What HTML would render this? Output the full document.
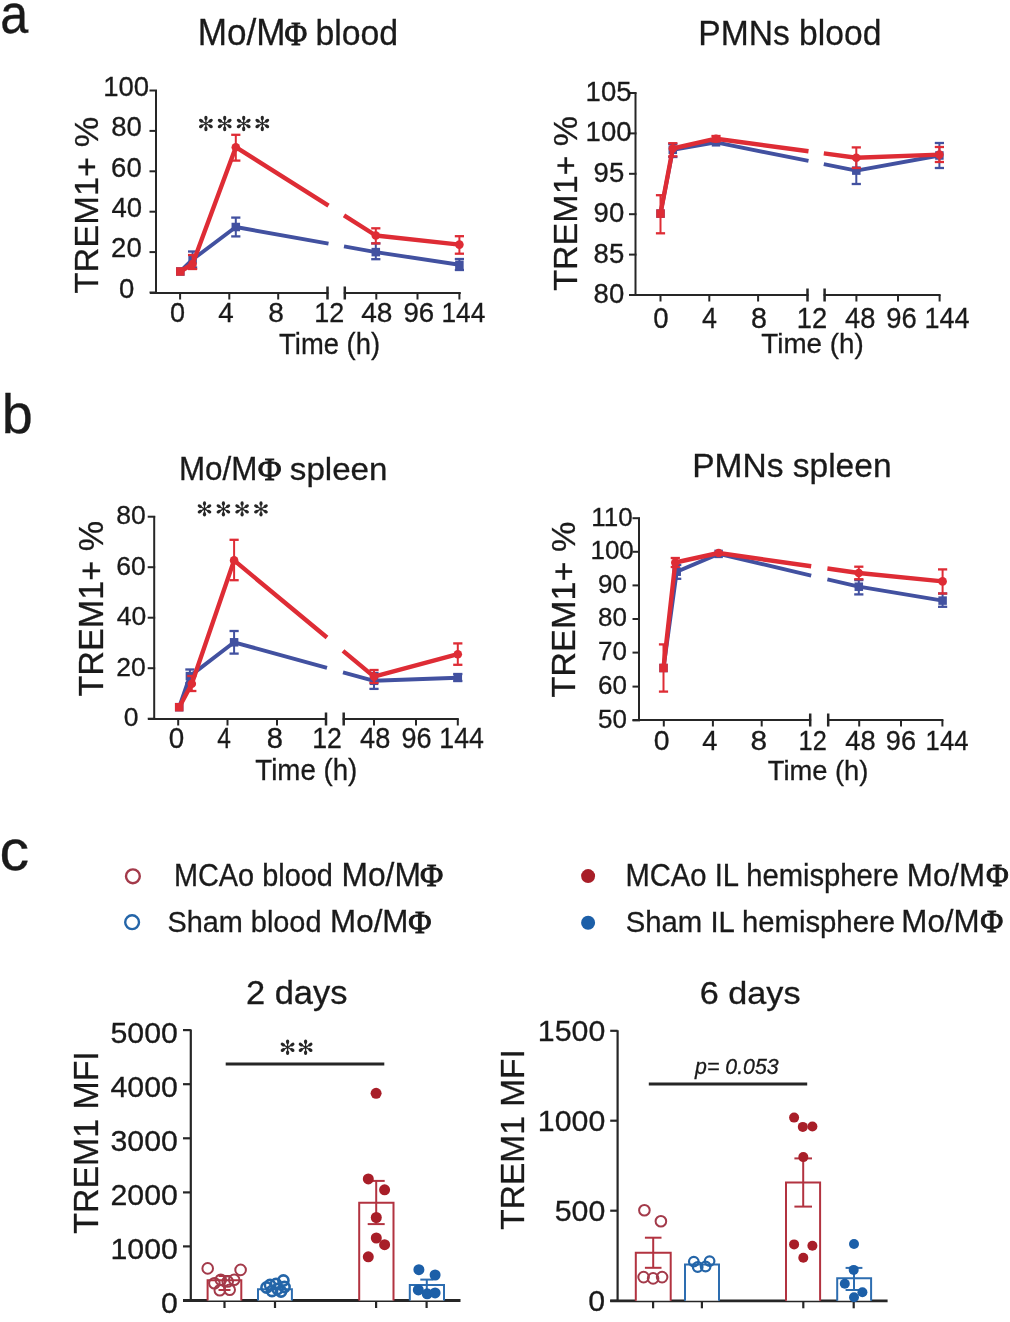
<!DOCTYPE html><html><head><meta charset="utf-8"><style>html,body{margin:0;padding:0;background:#fff;}svg{display:block;filter:blur(0.6px);} text{font-family:"Liberation Sans",sans-serif;stroke:#1a1a1a;stroke-width:0.3px;}</style></head><body><svg width="1010" height="1322" viewBox="0 0 1010 1322"><rect width="1010" height="1322" fill="#fff"/>
<text transform="translate(0.36,33.00) scale(0.9088,1)" font-size="55.44" fill="#1a1a1a"><tspan font-family="Liberation Sans">a</tspan></text>
<text transform="translate(1.69,432.60) scale(1.0020,1)" font-size="55.72" fill="#1a1a1a"><tspan font-family="Liberation Sans">b</tspan></text>
<text transform="translate(-0.57,869.80) scale(1.0263,1)" font-size="57.67" fill="#1a1a1a"><tspan font-family="Liberation Sans">c</tspan></text>
<text transform="translate(197.68,44.50) scale(0.9738,1)" font-size="36.07" fill="#1a1a1a"><tspan font-family="Liberation Sans">Mo/M</tspan></text>
<text transform="translate(284.47,44.80) scale(0.9289,1)" font-size="33.44" fill="#1a1a1a" style="stroke-width:0.9px"><tspan font-family="Liberation Serif">Φ</tspan></text>
<text transform="translate(315.40,44.50) scale(0.9763,1)" font-size="34.62" fill="#1a1a1a"><tspan font-family="Liberation Sans">blood</tspan></text>
<text transform="translate(698.28,44.70) scale(0.9395,1)" font-size="35.78" fill="#1a1a1a"><tspan font-family="Liberation Sans">PMNs blood</tspan></text>
<text transform="translate(178.95,480.10) scale(0.9632,1)" font-size="32.58" fill="#1a1a1a"><tspan font-family="Liberation Sans">Mo/M</tspan></text>
<text transform="translate(257.79,479.90) scale(1.0140,1)" font-size="32.06" fill="#1a1a1a" style="stroke-width:0.9px"><tspan font-family="Liberation Serif">Φ</tspan></text>
<text transform="translate(289.85,480.10) scale(1.0485,1)" font-size="31.59" fill="#1a1a1a"><tspan font-family="Liberation Sans">spleen</tspan></text>
<text transform="translate(692.23,477.30) scale(1.0065,1)" font-size="33.31" fill="#1a1a1a"><tspan font-family="Liberation Sans">PMNs spleen</tspan></text>
<line x1="156.00" y1="90.00" x2="156.00" y2="294.00" stroke="#262626" stroke-width="2.00" stroke-linecap="butt"/>
<line x1="149.50" y1="90.50" x2="157.00" y2="90.50" stroke="#262626" stroke-width="2.00" stroke-linecap="butt"/>
<line x1="149.50" y1="130.90" x2="157.00" y2="130.90" stroke="#262626" stroke-width="2.00" stroke-linecap="butt"/>
<line x1="149.50" y1="171.30" x2="157.00" y2="171.30" stroke="#262626" stroke-width="2.00" stroke-linecap="butt"/>
<line x1="149.50" y1="211.70" x2="157.00" y2="211.70" stroke="#262626" stroke-width="2.00" stroke-linecap="butt"/>
<line x1="149.50" y1="252.10" x2="157.00" y2="252.10" stroke="#262626" stroke-width="2.00" stroke-linecap="butt"/>
<line x1="149.50" y1="292.50" x2="157.00" y2="292.50" stroke="#262626" stroke-width="2.00" stroke-linecap="butt"/>
<line x1="150.00" y1="293.00" x2="328.50" y2="293.00" stroke="#262626" stroke-width="2.00" stroke-linecap="butt"/>
<line x1="343.80" y1="293.00" x2="460.80" y2="293.00" stroke="#262626" stroke-width="2.00" stroke-linecap="butt"/>
<line x1="180.10" y1="293.00" x2="180.10" y2="299.50" stroke="#262626" stroke-width="2.00" stroke-linecap="butt"/>
<line x1="229.30" y1="293.00" x2="229.30" y2="299.50" stroke="#262626" stroke-width="2.00" stroke-linecap="butt"/>
<line x1="278.20" y1="293.00" x2="278.20" y2="299.50" stroke="#262626" stroke-width="2.00" stroke-linecap="butt"/>
<line x1="376.30" y1="293.00" x2="376.30" y2="299.50" stroke="#262626" stroke-width="2.00" stroke-linecap="butt"/>
<line x1="417.50" y1="293.00" x2="417.50" y2="299.50" stroke="#262626" stroke-width="2.00" stroke-linecap="butt"/>
<line x1="459.40" y1="293.00" x2="459.40" y2="299.50" stroke="#262626" stroke-width="2.00" stroke-linecap="butt"/>
<line x1="327.50" y1="286.50" x2="327.50" y2="299.50" stroke="#262626" stroke-width="2.50" stroke-linecap="butt"/>
<line x1="344.80" y1="286.50" x2="344.80" y2="299.50" stroke="#262626" stroke-width="2.50" stroke-linecap="butt"/>
<polyline points="180.30,271.50 192.60,259.50 235.80,227.00 328.50,243.62" fill="none" stroke="#4251a0" stroke-width="3.90" stroke-linejoin="round" stroke-linecap="butt"/>
<polyline points="344.00,246.40 375.80,252.10 459.40,264.80" fill="none" stroke="#4251a0" stroke-width="3.90" stroke-linejoin="round" stroke-linecap="butt"/>
<line x1="192.60" y1="251.50" x2="192.60" y2="267.50" stroke="#4251a0" stroke-width="2.00" stroke-linecap="butt"/>
<line x1="188.00" y1="251.50" x2="197.20" y2="251.50" stroke="#4251a0" stroke-width="2.30" stroke-linecap="butt"/>
<line x1="188.00" y1="267.50" x2="197.20" y2="267.50" stroke="#4251a0" stroke-width="2.30" stroke-linecap="butt"/>
<line x1="235.80" y1="217.60" x2="235.80" y2="236.40" stroke="#4251a0" stroke-width="2.00" stroke-linecap="butt"/>
<line x1="231.20" y1="217.60" x2="240.40" y2="217.60" stroke="#4251a0" stroke-width="2.30" stroke-linecap="butt"/>
<line x1="231.20" y1="236.40" x2="240.40" y2="236.40" stroke="#4251a0" stroke-width="2.30" stroke-linecap="butt"/>
<line x1="375.80" y1="243.40" x2="375.80" y2="259.20" stroke="#4251a0" stroke-width="2.00" stroke-linecap="butt"/>
<line x1="371.20" y1="243.40" x2="380.40" y2="243.40" stroke="#4251a0" stroke-width="2.30" stroke-linecap="butt"/>
<line x1="371.20" y1="259.20" x2="380.40" y2="259.20" stroke="#4251a0" stroke-width="2.30" stroke-linecap="butt"/>
<line x1="459.40" y1="259.00" x2="459.40" y2="270.00" stroke="#4251a0" stroke-width="2.00" stroke-linecap="butt"/>
<line x1="454.80" y1="259.00" x2="464.00" y2="259.00" stroke="#4251a0" stroke-width="2.30" stroke-linecap="butt"/>
<line x1="454.80" y1="270.00" x2="464.00" y2="270.00" stroke="#4251a0" stroke-width="2.30" stroke-linecap="butt"/>
<rect x="176.05" y="267.25" width="8.5" height="8.5" fill="#4251a0"/>
<rect x="188.35" y="255.25" width="8.5" height="8.5" fill="#4251a0"/>
<rect x="231.55" y="222.75" width="8.5" height="8.5" fill="#4251a0"/>
<rect x="371.55" y="247.85" width="8.5" height="8.5" fill="#4251a0"/>
<rect x="455.15" y="260.55" width="8.5" height="8.5" fill="#4251a0"/>
<polyline points="180.30,271.50 192.60,264.00 235.80,147.20 328.50,205.67" fill="none" stroke="#de2c35" stroke-width="4.40" stroke-linejoin="round" stroke-linecap="butt"/>
<polyline points="344.00,215.44 375.80,235.50 459.40,244.60" fill="none" stroke="#de2c35" stroke-width="4.40" stroke-linejoin="round" stroke-linecap="butt"/>
<line x1="192.60" y1="255.00" x2="192.60" y2="269.00" stroke="#de2c35" stroke-width="2.00" stroke-linecap="butt"/>
<line x1="188.00" y1="255.00" x2="197.20" y2="255.00" stroke="#de2c35" stroke-width="2.30" stroke-linecap="butt"/>
<line x1="188.00" y1="269.00" x2="197.20" y2="269.00" stroke="#de2c35" stroke-width="2.30" stroke-linecap="butt"/>
<line x1="235.80" y1="134.80" x2="235.80" y2="160.60" stroke="#de2c35" stroke-width="2.00" stroke-linecap="butt"/>
<line x1="231.20" y1="134.80" x2="240.40" y2="134.80" stroke="#de2c35" stroke-width="2.30" stroke-linecap="butt"/>
<line x1="231.20" y1="160.60" x2="240.40" y2="160.60" stroke="#de2c35" stroke-width="2.30" stroke-linecap="butt"/>
<line x1="375.80" y1="228.30" x2="375.80" y2="243.40" stroke="#de2c35" stroke-width="2.00" stroke-linecap="butt"/>
<line x1="371.20" y1="228.30" x2="380.40" y2="228.30" stroke="#de2c35" stroke-width="2.30" stroke-linecap="butt"/>
<line x1="371.20" y1="243.40" x2="380.40" y2="243.40" stroke="#de2c35" stroke-width="2.30" stroke-linecap="butt"/>
<line x1="459.40" y1="236.20" x2="459.40" y2="253.70" stroke="#de2c35" stroke-width="2.00" stroke-linecap="butt"/>
<line x1="454.80" y1="236.20" x2="464.00" y2="236.20" stroke="#de2c35" stroke-width="2.30" stroke-linecap="butt"/>
<line x1="454.80" y1="253.70" x2="464.00" y2="253.70" stroke="#de2c35" stroke-width="2.30" stroke-linecap="butt"/>
<rect x="176.05" y="267.25" width="8.5" height="8.5" fill="#de2c35"/>
<circle cx="192.60" cy="264.00" r="4.3" fill="#de2c35"/>
<circle cx="235.80" cy="147.20" r="4.3" fill="#de2c35"/>
<circle cx="375.80" cy="235.50" r="4.3" fill="#de2c35"/>
<circle cx="459.40" cy="244.60" r="4.3" fill="#de2c35"/>
<text transform="translate(103.22,95.70) scale(1.0000,1)" font-size="27.50" fill="#1a1a1a">100</text>
<text transform="translate(111.22,136.10) scale(1.0000,1)" font-size="27.50" fill="#1a1a1a">80</text>
<text transform="translate(111.10,176.50) scale(1.0000,1)" font-size="27.50" fill="#1a1a1a">60</text>
<text transform="translate(111.47,216.90) scale(1.0000,1)" font-size="27.50" fill="#1a1a1a">40</text>
<text transform="translate(111.10,257.30) scale(1.0000,1)" font-size="27.50" fill="#1a1a1a">20</text>
<text transform="translate(118.97,297.70) scale(1.0000,1)" font-size="27.50" fill="#1a1a1a">0</text>
<text transform="translate(169.94,322.40) scale(0.9630,1)" font-size="28.10" fill="#1a1a1a"><tspan font-family="Liberation Sans">0</tspan></text>
<text transform="translate(218.17,322.40) scale(0.9754,1)" font-size="28.51" fill="#1a1a1a"><tspan font-family="Liberation Sans">4</tspan></text>
<text transform="translate(268.15,322.40) scale(1.0000,1)" font-size="28.10" fill="#1a1a1a"><tspan font-family="Liberation Sans">8</tspan></text>
<text transform="translate(314.24,322.40) scale(0.9600,1)" font-size="28.10" fill="#1a1a1a"><tspan font-family="Liberation Sans">12</tspan></text>
<text transform="translate(361.15,322.40) scale(1.0000,1)" font-size="28.10" fill="#1a1a1a"><tspan font-family="Liberation Sans">48</tspan></text>
<text transform="translate(403.47,322.40) scale(0.9860,1)" font-size="28.10" fill="#1a1a1a"><tspan font-family="Liberation Sans">96</tspan></text>
<text transform="translate(441.43,322.40) scale(0.9213,1)" font-size="28.51" fill="#1a1a1a"><tspan font-family="Liberation Sans">144</tspan></text>
<text transform="translate(279.10,354.20) scale(0.9368,1)" font-size="29.24" fill="#1a1a1a"><tspan font-family="Liberation Sans">Time (h)</tspan></text>
<text transform="translate(97.60,293.48) rotate(-90) scale(1.0390,1)" font-size="33.09" fill="#1a1a1a"><tspan font-family="Liberation Sans">TREM1+ %</tspan></text>
<line x1="205.90" y1="118.04" x2="205.90" y2="128.96" stroke="#262626" stroke-width="1.30"/>
<ellipse cx="205.90" cy="128.96" rx="2.34" ry="1.64" fill="#262626" transform="rotate(90.0 205.90 128.96)"/>
<ellipse cx="205.90" cy="118.04" rx="2.34" ry="1.64" fill="#262626" transform="rotate(90.0 205.90 118.04)"/>
<line x1="201.17" y1="120.77" x2="210.63" y2="126.23" stroke="#262626" stroke-width="1.30"/>
<ellipse cx="210.63" cy="126.23" rx="2.34" ry="1.64" fill="#262626" transform="rotate(30.0 210.63 126.23)"/>
<ellipse cx="201.17" cy="120.77" rx="2.34" ry="1.64" fill="#262626" transform="rotate(30.0 201.17 120.77)"/>
<line x1="210.63" y1="120.77" x2="201.17" y2="126.23" stroke="#262626" stroke-width="1.30"/>
<ellipse cx="201.17" cy="126.23" rx="2.34" ry="1.64" fill="#262626" transform="rotate(150.0 201.17 126.23)"/>
<ellipse cx="210.63" cy="120.77" rx="2.34" ry="1.64" fill="#262626" transform="rotate(150.0 210.63 120.77)"/>
<line x1="224.70" y1="118.04" x2="224.70" y2="128.96" stroke="#262626" stroke-width="1.30"/>
<ellipse cx="224.70" cy="128.96" rx="2.34" ry="1.64" fill="#262626" transform="rotate(90.0 224.70 128.96)"/>
<ellipse cx="224.70" cy="118.04" rx="2.34" ry="1.64" fill="#262626" transform="rotate(90.0 224.70 118.04)"/>
<line x1="219.97" y1="120.77" x2="229.43" y2="126.23" stroke="#262626" stroke-width="1.30"/>
<ellipse cx="229.43" cy="126.23" rx="2.34" ry="1.64" fill="#262626" transform="rotate(30.0 229.43 126.23)"/>
<ellipse cx="219.97" cy="120.77" rx="2.34" ry="1.64" fill="#262626" transform="rotate(30.0 219.97 120.77)"/>
<line x1="229.43" y1="120.77" x2="219.97" y2="126.23" stroke="#262626" stroke-width="1.30"/>
<ellipse cx="219.97" cy="126.23" rx="2.34" ry="1.64" fill="#262626" transform="rotate(150.0 219.97 126.23)"/>
<ellipse cx="229.43" cy="120.77" rx="2.34" ry="1.64" fill="#262626" transform="rotate(150.0 229.43 120.77)"/>
<line x1="243.70" y1="118.04" x2="243.70" y2="128.96" stroke="#262626" stroke-width="1.30"/>
<ellipse cx="243.70" cy="128.96" rx="2.34" ry="1.64" fill="#262626" transform="rotate(90.0 243.70 128.96)"/>
<ellipse cx="243.70" cy="118.04" rx="2.34" ry="1.64" fill="#262626" transform="rotate(90.0 243.70 118.04)"/>
<line x1="238.97" y1="120.77" x2="248.43" y2="126.23" stroke="#262626" stroke-width="1.30"/>
<ellipse cx="248.43" cy="126.23" rx="2.34" ry="1.64" fill="#262626" transform="rotate(30.0 248.43 126.23)"/>
<ellipse cx="238.97" cy="120.77" rx="2.34" ry="1.64" fill="#262626" transform="rotate(30.0 238.97 120.77)"/>
<line x1="248.43" y1="120.77" x2="238.97" y2="126.23" stroke="#262626" stroke-width="1.30"/>
<ellipse cx="238.97" cy="126.23" rx="2.34" ry="1.64" fill="#262626" transform="rotate(150.0 238.97 126.23)"/>
<ellipse cx="248.43" cy="120.77" rx="2.34" ry="1.64" fill="#262626" transform="rotate(150.0 248.43 120.77)"/>
<line x1="262.30" y1="118.04" x2="262.30" y2="128.96" stroke="#262626" stroke-width="1.30"/>
<ellipse cx="262.30" cy="128.96" rx="2.34" ry="1.64" fill="#262626" transform="rotate(90.0 262.30 128.96)"/>
<ellipse cx="262.30" cy="118.04" rx="2.34" ry="1.64" fill="#262626" transform="rotate(90.0 262.30 118.04)"/>
<line x1="257.57" y1="120.77" x2="267.03" y2="126.23" stroke="#262626" stroke-width="1.30"/>
<ellipse cx="267.03" cy="126.23" rx="2.34" ry="1.64" fill="#262626" transform="rotate(30.0 267.03 126.23)"/>
<ellipse cx="257.57" cy="120.77" rx="2.34" ry="1.64" fill="#262626" transform="rotate(30.0 257.57 120.77)"/>
<line x1="267.03" y1="120.77" x2="257.57" y2="126.23" stroke="#262626" stroke-width="1.30"/>
<ellipse cx="257.57" cy="126.23" rx="2.34" ry="1.64" fill="#262626" transform="rotate(150.0 257.57 126.23)"/>
<ellipse cx="267.03" cy="120.77" rx="2.34" ry="1.64" fill="#262626" transform="rotate(150.0 267.03 120.77)"/>
<line x1="635.50" y1="92.50" x2="635.50" y2="296.00" stroke="#262626" stroke-width="2.00" stroke-linecap="butt"/>
<line x1="629.00" y1="93.00" x2="636.50" y2="93.00" stroke="#262626" stroke-width="2.00" stroke-linecap="butt"/>
<line x1="629.00" y1="133.40" x2="636.50" y2="133.40" stroke="#262626" stroke-width="2.00" stroke-linecap="butt"/>
<line x1="629.00" y1="173.80" x2="636.50" y2="173.80" stroke="#262626" stroke-width="2.00" stroke-linecap="butt"/>
<line x1="629.00" y1="214.20" x2="636.50" y2="214.20" stroke="#262626" stroke-width="2.00" stroke-linecap="butt"/>
<line x1="629.00" y1="254.60" x2="636.50" y2="254.60" stroke="#262626" stroke-width="2.00" stroke-linecap="butt"/>
<line x1="629.00" y1="295.00" x2="636.50" y2="295.00" stroke="#262626" stroke-width="2.00" stroke-linecap="butt"/>
<line x1="629.50" y1="295.00" x2="808.50" y2="295.00" stroke="#262626" stroke-width="2.00" stroke-linecap="butt"/>
<line x1="823.60" y1="295.00" x2="940.60" y2="295.00" stroke="#262626" stroke-width="2.00" stroke-linecap="butt"/>
<line x1="660.50" y1="295.00" x2="660.50" y2="301.50" stroke="#262626" stroke-width="2.00" stroke-linecap="butt"/>
<line x1="709.30" y1="295.00" x2="709.30" y2="301.50" stroke="#262626" stroke-width="2.00" stroke-linecap="butt"/>
<line x1="758.10" y1="295.00" x2="758.10" y2="301.50" stroke="#262626" stroke-width="2.00" stroke-linecap="butt"/>
<line x1="856.40" y1="295.00" x2="856.40" y2="301.50" stroke="#262626" stroke-width="2.00" stroke-linecap="butt"/>
<line x1="898.00" y1="295.00" x2="898.00" y2="301.50" stroke="#262626" stroke-width="2.00" stroke-linecap="butt"/>
<line x1="939.60" y1="295.00" x2="939.60" y2="301.50" stroke="#262626" stroke-width="2.00" stroke-linecap="butt"/>
<line x1="807.50" y1="288.50" x2="807.50" y2="301.50" stroke="#262626" stroke-width="2.50" stroke-linecap="butt"/>
<line x1="824.60" y1="288.50" x2="824.60" y2="301.50" stroke="#262626" stroke-width="2.50" stroke-linecap="butt"/>
<polyline points="660.50,213.60 672.80,149.80 716.00,142.30 808.50,160.96" fill="none" stroke="#4251a0" stroke-width="3.90" stroke-linejoin="round" stroke-linecap="butt"/>
<polyline points="823.80,164.04 856.30,170.60 939.40,155.50" fill="none" stroke="#4251a0" stroke-width="3.90" stroke-linejoin="round" stroke-linecap="butt"/>
<line x1="672.80" y1="144.00" x2="672.80" y2="157.00" stroke="#4251a0" stroke-width="2.00" stroke-linecap="butt"/>
<line x1="668.20" y1="144.00" x2="677.40" y2="144.00" stroke="#4251a0" stroke-width="2.30" stroke-linecap="butt"/>
<line x1="668.20" y1="157.00" x2="677.40" y2="157.00" stroke="#4251a0" stroke-width="2.30" stroke-linecap="butt"/>
<line x1="856.30" y1="157.00" x2="856.30" y2="184.00" stroke="#4251a0" stroke-width="2.00" stroke-linecap="butt"/>
<line x1="851.70" y1="157.00" x2="860.90" y2="157.00" stroke="#4251a0" stroke-width="2.30" stroke-linecap="butt"/>
<line x1="851.70" y1="184.00" x2="860.90" y2="184.00" stroke="#4251a0" stroke-width="2.30" stroke-linecap="butt"/>
<line x1="939.40" y1="143.00" x2="939.40" y2="168.00" stroke="#4251a0" stroke-width="2.00" stroke-linecap="butt"/>
<line x1="934.80" y1="143.00" x2="944.00" y2="143.00" stroke="#4251a0" stroke-width="2.30" stroke-linecap="butt"/>
<line x1="934.80" y1="168.00" x2="944.00" y2="168.00" stroke="#4251a0" stroke-width="2.30" stroke-linecap="butt"/>
<rect x="656.25" y="209.35" width="8.5" height="8.5" fill="#4251a0"/>
<rect x="668.55" y="145.55" width="8.5" height="8.5" fill="#4251a0"/>
<rect x="711.75" y="138.05" width="8.5" height="8.5" fill="#4251a0"/>
<rect x="852.05" y="166.35" width="8.5" height="8.5" fill="#4251a0"/>
<rect x="935.15" y="151.25" width="8.5" height="8.5" fill="#4251a0"/>
<polyline points="660.50,213.60 672.80,148.50 716.00,138.70 808.50,151.29" fill="none" stroke="#de2c35" stroke-width="4.40" stroke-linejoin="round" stroke-linecap="butt"/>
<polyline points="823.80,153.38 856.30,157.80 939.40,154.60" fill="none" stroke="#de2c35" stroke-width="4.40" stroke-linejoin="round" stroke-linecap="butt"/>
<line x1="660.50" y1="195.20" x2="660.50" y2="233.30" stroke="#de2c35" stroke-width="2.00" stroke-linecap="butt"/>
<line x1="655.90" y1="195.20" x2="665.10" y2="195.20" stroke="#de2c35" stroke-width="2.30" stroke-linecap="butt"/>
<line x1="655.90" y1="233.30" x2="665.10" y2="233.30" stroke="#de2c35" stroke-width="2.30" stroke-linecap="butt"/>
<line x1="672.80" y1="143.20" x2="672.80" y2="156.30" stroke="#de2c35" stroke-width="2.00" stroke-linecap="butt"/>
<line x1="668.20" y1="143.20" x2="677.40" y2="143.20" stroke="#de2c35" stroke-width="2.30" stroke-linecap="butt"/>
<line x1="668.20" y1="156.30" x2="677.40" y2="156.30" stroke="#de2c35" stroke-width="2.30" stroke-linecap="butt"/>
<line x1="716.00" y1="136.00" x2="716.00" y2="141.50" stroke="#de2c35" stroke-width="2.00" stroke-linecap="butt"/>
<line x1="711.40" y1="136.00" x2="720.60" y2="136.00" stroke="#de2c35" stroke-width="2.30" stroke-linecap="butt"/>
<line x1="711.40" y1="141.50" x2="720.60" y2="141.50" stroke="#de2c35" stroke-width="2.30" stroke-linecap="butt"/>
<line x1="856.30" y1="147.40" x2="856.30" y2="168.00" stroke="#de2c35" stroke-width="2.00" stroke-linecap="butt"/>
<line x1="851.70" y1="147.40" x2="860.90" y2="147.40" stroke="#de2c35" stroke-width="2.30" stroke-linecap="butt"/>
<line x1="851.70" y1="168.00" x2="860.90" y2="168.00" stroke="#de2c35" stroke-width="2.30" stroke-linecap="butt"/>
<line x1="939.40" y1="147.00" x2="939.40" y2="162.00" stroke="#de2c35" stroke-width="2.00" stroke-linecap="butt"/>
<line x1="934.80" y1="147.00" x2="944.00" y2="147.00" stroke="#de2c35" stroke-width="2.30" stroke-linecap="butt"/>
<line x1="934.80" y1="162.00" x2="944.00" y2="162.00" stroke="#de2c35" stroke-width="2.30" stroke-linecap="butt"/>
<rect x="656.25" y="209.35" width="8.5" height="8.5" fill="#de2c35"/>
<circle cx="672.80" cy="148.50" r="4.3" fill="#de2c35"/>
<circle cx="716.00" cy="138.70" r="4.3" fill="#de2c35"/>
<circle cx="856.30" cy="157.80" r="4.3" fill="#de2c35"/>
<circle cx="939.40" cy="154.60" r="4.3" fill="#de2c35"/>
<text transform="translate(585.62,101.00) scale(1.0000,1)" font-size="27.50" fill="#1a1a1a">105</text>
<text transform="translate(585.62,141.40) scale(1.0000,1)" font-size="27.50" fill="#1a1a1a">100</text>
<text transform="translate(593.62,181.80) scale(1.0000,1)" font-size="27.50" fill="#1a1a1a">95</text>
<text transform="translate(593.62,222.20) scale(1.0000,1)" font-size="27.50" fill="#1a1a1a">90</text>
<text transform="translate(593.62,262.60) scale(1.0000,1)" font-size="27.50" fill="#1a1a1a">85</text>
<text transform="translate(593.62,303.00) scale(1.0000,1)" font-size="27.50" fill="#1a1a1a">80</text>
<text transform="translate(653.30,327.80) scale(0.9630,1)" font-size="28.67" fill="#1a1a1a"><tspan font-family="Liberation Sans">0</tspan></text>
<text transform="translate(701.91,327.80) scale(0.9241,1)" font-size="29.09" fill="#1a1a1a"><tspan font-family="Liberation Sans">4</tspan></text>
<text transform="translate(750.95,327.80) scale(1.0000,1)" font-size="28.67" fill="#1a1a1a"><tspan font-family="Liberation Sans">8</tspan></text>
<text transform="translate(796.76,327.80) scale(0.9522,1)" font-size="28.67" fill="#1a1a1a"><tspan font-family="Liberation Sans">12</tspan></text>
<text transform="translate(845.09,327.80) scale(0.9533,1)" font-size="28.67" fill="#1a1a1a"><tspan font-family="Liberation Sans">48</tspan></text>
<text transform="translate(886.21,327.80) scale(0.9559,1)" font-size="28.67" fill="#1a1a1a"><tspan font-family="Liberation Sans">96</tspan></text>
<text transform="translate(924.61,327.80) scale(0.9282,1)" font-size="29.09" fill="#1a1a1a"><tspan font-family="Liberation Sans">144</tspan></text>
<text transform="translate(761.35,352.80) scale(0.9950,1)" font-size="27.93" fill="#1a1a1a"><tspan font-family="Liberation Sans">Time (h)</tspan></text>
<text transform="translate(577.40,290.77) rotate(-90) scale(1.0243,1)" font-size="33.24" fill="#1a1a1a"><tspan font-family="Liberation Sans">TREM1+ %</tspan></text>
<line x1="154.20" y1="516.00" x2="154.20" y2="720.00" stroke="#262626" stroke-width="2.00" stroke-linecap="butt"/>
<line x1="147.70" y1="516.70" x2="155.20" y2="516.70" stroke="#262626" stroke-width="2.00" stroke-linecap="butt"/>
<line x1="147.70" y1="567.20" x2="155.20" y2="567.20" stroke="#262626" stroke-width="2.00" stroke-linecap="butt"/>
<line x1="147.70" y1="617.70" x2="155.20" y2="617.70" stroke="#262626" stroke-width="2.00" stroke-linecap="butt"/>
<line x1="147.70" y1="668.20" x2="155.20" y2="668.20" stroke="#262626" stroke-width="2.00" stroke-linecap="butt"/>
<line x1="147.70" y1="718.70" x2="155.20" y2="718.70" stroke="#262626" stroke-width="2.00" stroke-linecap="butt"/>
<line x1="148.00" y1="719.00" x2="327.00" y2="719.00" stroke="#262626" stroke-width="2.00" stroke-linecap="butt"/>
<line x1="342.70" y1="719.00" x2="458.80" y2="719.00" stroke="#262626" stroke-width="2.00" stroke-linecap="butt"/>
<line x1="178.20" y1="719.00" x2="178.20" y2="725.50" stroke="#262626" stroke-width="2.00" stroke-linecap="butt"/>
<line x1="227.50" y1="719.00" x2="227.50" y2="725.50" stroke="#262626" stroke-width="2.00" stroke-linecap="butt"/>
<line x1="277.00" y1="719.00" x2="277.00" y2="725.50" stroke="#262626" stroke-width="2.00" stroke-linecap="butt"/>
<line x1="374.00" y1="719.00" x2="374.00" y2="725.50" stroke="#262626" stroke-width="2.00" stroke-linecap="butt"/>
<line x1="416.00" y1="719.00" x2="416.00" y2="725.50" stroke="#262626" stroke-width="2.00" stroke-linecap="butt"/>
<line x1="457.80" y1="719.00" x2="457.80" y2="725.50" stroke="#262626" stroke-width="2.00" stroke-linecap="butt"/>
<line x1="326.00" y1="712.50" x2="326.00" y2="725.50" stroke="#262626" stroke-width="2.50" stroke-linecap="butt"/>
<line x1="343.70" y1="712.50" x2="343.70" y2="725.50" stroke="#262626" stroke-width="2.50" stroke-linecap="butt"/>
<polyline points="179.20,707.20 189.90,676.10 234.10,642.30 327.00,667.87" fill="none" stroke="#4251a0" stroke-width="3.90" stroke-linejoin="round" stroke-linecap="butt"/>
<polyline points="343.00,672.27 374.00,680.80 457.80,677.80" fill="none" stroke="#4251a0" stroke-width="3.90" stroke-linejoin="round" stroke-linecap="butt"/>
<line x1="189.90" y1="669.50" x2="189.90" y2="683.00" stroke="#4251a0" stroke-width="2.00" stroke-linecap="butt"/>
<line x1="185.30" y1="669.50" x2="194.50" y2="669.50" stroke="#4251a0" stroke-width="2.30" stroke-linecap="butt"/>
<line x1="185.30" y1="683.00" x2="194.50" y2="683.00" stroke="#4251a0" stroke-width="2.30" stroke-linecap="butt"/>
<line x1="234.10" y1="631.00" x2="234.10" y2="653.60" stroke="#4251a0" stroke-width="2.00" stroke-linecap="butt"/>
<line x1="229.50" y1="631.00" x2="238.70" y2="631.00" stroke="#4251a0" stroke-width="2.30" stroke-linecap="butt"/>
<line x1="229.50" y1="653.60" x2="238.70" y2="653.60" stroke="#4251a0" stroke-width="2.30" stroke-linecap="butt"/>
<line x1="374.00" y1="673.00" x2="374.00" y2="688.90" stroke="#4251a0" stroke-width="2.00" stroke-linecap="butt"/>
<line x1="369.40" y1="673.00" x2="378.60" y2="673.00" stroke="#4251a0" stroke-width="2.30" stroke-linecap="butt"/>
<line x1="369.40" y1="688.90" x2="378.60" y2="688.90" stroke="#4251a0" stroke-width="2.30" stroke-linecap="butt"/>
<line x1="457.80" y1="674.00" x2="457.80" y2="681.00" stroke="#4251a0" stroke-width="2.00" stroke-linecap="butt"/>
<line x1="453.20" y1="674.00" x2="462.40" y2="674.00" stroke="#4251a0" stroke-width="2.30" stroke-linecap="butt"/>
<line x1="453.20" y1="681.00" x2="462.40" y2="681.00" stroke="#4251a0" stroke-width="2.30" stroke-linecap="butt"/>
<rect x="174.95" y="702.95" width="8.5" height="8.5" fill="#4251a0"/>
<rect x="185.65" y="671.85" width="8.5" height="8.5" fill="#4251a0"/>
<rect x="229.85" y="638.05" width="8.5" height="8.5" fill="#4251a0"/>
<rect x="369.75" y="676.55" width="8.5" height="8.5" fill="#4251a0"/>
<rect x="453.55" y="673.55" width="8.5" height="8.5" fill="#4251a0"/>
<polyline points="179.20,707.20 191.80,683.70 234.10,560.40 327.00,637.56" fill="none" stroke="#de2c35" stroke-width="4.40" stroke-linejoin="round" stroke-linecap="butt"/>
<polyline points="343.00,650.85 374.00,676.60 457.80,654.20" fill="none" stroke="#de2c35" stroke-width="4.40" stroke-linejoin="round" stroke-linecap="butt"/>
<line x1="191.80" y1="676.00" x2="191.80" y2="691.00" stroke="#de2c35" stroke-width="2.00" stroke-linecap="butt"/>
<line x1="187.20" y1="676.00" x2="196.40" y2="676.00" stroke="#de2c35" stroke-width="2.30" stroke-linecap="butt"/>
<line x1="187.20" y1="691.00" x2="196.40" y2="691.00" stroke="#de2c35" stroke-width="2.30" stroke-linecap="butt"/>
<line x1="234.10" y1="539.80" x2="234.10" y2="580.20" stroke="#de2c35" stroke-width="2.00" stroke-linecap="butt"/>
<line x1="229.50" y1="539.80" x2="238.70" y2="539.80" stroke="#de2c35" stroke-width="2.30" stroke-linecap="butt"/>
<line x1="229.50" y1="580.20" x2="238.70" y2="580.20" stroke="#de2c35" stroke-width="2.30" stroke-linecap="butt"/>
<line x1="374.00" y1="670.00" x2="374.00" y2="683.00" stroke="#de2c35" stroke-width="2.00" stroke-linecap="butt"/>
<line x1="369.40" y1="670.00" x2="378.60" y2="670.00" stroke="#de2c35" stroke-width="2.30" stroke-linecap="butt"/>
<line x1="369.40" y1="683.00" x2="378.60" y2="683.00" stroke="#de2c35" stroke-width="2.30" stroke-linecap="butt"/>
<line x1="457.80" y1="643.40" x2="457.80" y2="664.80" stroke="#de2c35" stroke-width="2.00" stroke-linecap="butt"/>
<line x1="453.20" y1="643.40" x2="462.40" y2="643.40" stroke="#de2c35" stroke-width="2.30" stroke-linecap="butt"/>
<line x1="453.20" y1="664.80" x2="462.40" y2="664.80" stroke="#de2c35" stroke-width="2.30" stroke-linecap="butt"/>
<rect x="174.95" y="702.95" width="8.5" height="8.5" fill="#de2c35"/>
<circle cx="191.80" cy="683.70" r="4.3" fill="#de2c35"/>
<circle cx="234.10" cy="560.40" r="4.3" fill="#de2c35"/>
<circle cx="374.00" cy="676.60" r="4.3" fill="#de2c35"/>
<circle cx="457.80" cy="654.20" r="4.3" fill="#de2c35"/>
<text transform="translate(116.32,524.30) scale(1.0000,1)" font-size="26.50" fill="#1a1a1a">80</text>
<text transform="translate(116.32,574.80) scale(1.0000,1)" font-size="26.50" fill="#1a1a1a">60</text>
<text transform="translate(116.70,625.30) scale(1.0000,1)" font-size="26.50" fill="#1a1a1a">40</text>
<text transform="translate(116.32,675.80) scale(1.0000,1)" font-size="26.50" fill="#1a1a1a">20</text>
<text transform="translate(123.82,726.30) scale(1.0000,1)" font-size="26.50" fill="#1a1a1a">0</text>
<text transform="translate(168.80,748.30) scale(0.9600,1)" font-size="28.96" fill="#1a1a1a"><tspan font-family="Liberation Sans">0</tspan></text>
<text transform="translate(217.37,748.30) scale(0.8339,1)" font-size="29.38" fill="#1a1a1a"><tspan font-family="Liberation Sans">4</tspan></text>
<text transform="translate(266.64,748.30) scale(1.0074,1)" font-size="28.96" fill="#1a1a1a"><tspan font-family="Liberation Sans">8</tspan></text>
<text transform="translate(312.23,748.30) scale(0.9217,1)" font-size="28.96" fill="#1a1a1a"><tspan font-family="Liberation Sans">12</tspan></text>
<text transform="translate(360.10,748.30) scale(0.9388,1)" font-size="28.96" fill="#1a1a1a"><tspan font-family="Liberation Sans">48</tspan></text>
<text transform="translate(401.53,748.30) scale(0.9345,1)" font-size="28.96" fill="#1a1a1a"><tspan font-family="Liberation Sans">96</tspan></text>
<text transform="translate(439.25,748.30) scale(0.9109,1)" font-size="29.38" fill="#1a1a1a"><tspan font-family="Liberation Sans">144</tspan></text>
<text transform="translate(255.29,779.80) scale(0.9525,1)" font-size="29.09" fill="#1a1a1a"><tspan font-family="Liberation Sans">Time (h)</tspan></text>
<text transform="translate(102.50,696.61) rotate(-90) scale(0.9503,1)" font-size="35.97" fill="#1a1a1a"><tspan font-family="Liberation Sans">TREM1+ %</tspan></text>
<line x1="204.50" y1="503.51" x2="204.50" y2="514.29" stroke="#262626" stroke-width="1.30"/>
<ellipse cx="204.50" cy="514.29" rx="2.31" ry="1.62" fill="#262626" transform="rotate(90.0 204.50 514.29)"/>
<ellipse cx="204.50" cy="503.51" rx="2.31" ry="1.62" fill="#262626" transform="rotate(90.0 204.50 503.51)"/>
<line x1="199.83" y1="506.20" x2="209.17" y2="511.59" stroke="#262626" stroke-width="1.30"/>
<ellipse cx="209.17" cy="511.59" rx="2.31" ry="1.62" fill="#262626" transform="rotate(30.0 209.17 511.59)"/>
<ellipse cx="199.83" cy="506.20" rx="2.31" ry="1.62" fill="#262626" transform="rotate(30.0 199.83 506.20)"/>
<line x1="209.17" y1="506.20" x2="199.83" y2="511.59" stroke="#262626" stroke-width="1.30"/>
<ellipse cx="199.83" cy="511.59" rx="2.31" ry="1.62" fill="#262626" transform="rotate(150.0 199.83 511.59)"/>
<ellipse cx="209.17" cy="506.20" rx="2.31" ry="1.62" fill="#262626" transform="rotate(150.0 209.17 506.20)"/>
<line x1="223.40" y1="503.51" x2="223.40" y2="514.29" stroke="#262626" stroke-width="1.30"/>
<ellipse cx="223.40" cy="514.29" rx="2.31" ry="1.62" fill="#262626" transform="rotate(90.0 223.40 514.29)"/>
<ellipse cx="223.40" cy="503.51" rx="2.31" ry="1.62" fill="#262626" transform="rotate(90.0 223.40 503.51)"/>
<line x1="218.73" y1="506.20" x2="228.07" y2="511.59" stroke="#262626" stroke-width="1.30"/>
<ellipse cx="228.07" cy="511.59" rx="2.31" ry="1.62" fill="#262626" transform="rotate(30.0 228.07 511.59)"/>
<ellipse cx="218.73" cy="506.20" rx="2.31" ry="1.62" fill="#262626" transform="rotate(30.0 218.73 506.20)"/>
<line x1="228.07" y1="506.20" x2="218.73" y2="511.59" stroke="#262626" stroke-width="1.30"/>
<ellipse cx="218.73" cy="511.59" rx="2.31" ry="1.62" fill="#262626" transform="rotate(150.0 218.73 511.59)"/>
<ellipse cx="228.07" cy="506.20" rx="2.31" ry="1.62" fill="#262626" transform="rotate(150.0 228.07 506.20)"/>
<line x1="242.10" y1="503.51" x2="242.10" y2="514.29" stroke="#262626" stroke-width="1.30"/>
<ellipse cx="242.10" cy="514.29" rx="2.31" ry="1.62" fill="#262626" transform="rotate(90.0 242.10 514.29)"/>
<ellipse cx="242.10" cy="503.51" rx="2.31" ry="1.62" fill="#262626" transform="rotate(90.0 242.10 503.51)"/>
<line x1="237.43" y1="506.20" x2="246.77" y2="511.59" stroke="#262626" stroke-width="1.30"/>
<ellipse cx="246.77" cy="511.59" rx="2.31" ry="1.62" fill="#262626" transform="rotate(30.0 246.77 511.59)"/>
<ellipse cx="237.43" cy="506.20" rx="2.31" ry="1.62" fill="#262626" transform="rotate(30.0 237.43 506.20)"/>
<line x1="246.77" y1="506.20" x2="237.43" y2="511.59" stroke="#262626" stroke-width="1.30"/>
<ellipse cx="237.43" cy="511.59" rx="2.31" ry="1.62" fill="#262626" transform="rotate(150.0 237.43 511.59)"/>
<ellipse cx="246.77" cy="506.20" rx="2.31" ry="1.62" fill="#262626" transform="rotate(150.0 246.77 506.20)"/>
<line x1="261.00" y1="503.51" x2="261.00" y2="514.29" stroke="#262626" stroke-width="1.30"/>
<ellipse cx="261.00" cy="514.29" rx="2.31" ry="1.62" fill="#262626" transform="rotate(90.0 261.00 514.29)"/>
<ellipse cx="261.00" cy="503.51" rx="2.31" ry="1.62" fill="#262626" transform="rotate(90.0 261.00 503.51)"/>
<line x1="256.33" y1="506.20" x2="265.67" y2="511.59" stroke="#262626" stroke-width="1.30"/>
<ellipse cx="265.67" cy="511.59" rx="2.31" ry="1.62" fill="#262626" transform="rotate(30.0 265.67 511.59)"/>
<ellipse cx="256.33" cy="506.20" rx="2.31" ry="1.62" fill="#262626" transform="rotate(30.0 256.33 506.20)"/>
<line x1="265.67" y1="506.20" x2="256.33" y2="511.59" stroke="#262626" stroke-width="1.30"/>
<ellipse cx="256.33" cy="511.59" rx="2.31" ry="1.62" fill="#262626" transform="rotate(150.0 256.33 511.59)"/>
<ellipse cx="265.67" cy="506.20" rx="2.31" ry="1.62" fill="#262626" transform="rotate(150.0 265.67 506.20)"/>
<line x1="639.00" y1="517.70" x2="639.00" y2="721.00" stroke="#262626" stroke-width="2.00" stroke-linecap="butt"/>
<line x1="632.50" y1="518.20" x2="640.00" y2="518.20" stroke="#262626" stroke-width="2.00" stroke-linecap="butt"/>
<line x1="632.50" y1="551.80" x2="640.00" y2="551.80" stroke="#262626" stroke-width="2.00" stroke-linecap="butt"/>
<line x1="632.50" y1="585.40" x2="640.00" y2="585.40" stroke="#262626" stroke-width="2.00" stroke-linecap="butt"/>
<line x1="632.50" y1="619.00" x2="640.00" y2="619.00" stroke="#262626" stroke-width="2.00" stroke-linecap="butt"/>
<line x1="632.50" y1="652.60" x2="640.00" y2="652.60" stroke="#262626" stroke-width="2.00" stroke-linecap="butt"/>
<line x1="632.50" y1="686.60" x2="640.00" y2="686.60" stroke="#262626" stroke-width="2.00" stroke-linecap="butt"/>
<line x1="632.50" y1="720.40" x2="640.00" y2="720.40" stroke="#262626" stroke-width="2.00" stroke-linecap="butt"/>
<line x1="632.50" y1="720.00" x2="811.20" y2="720.00" stroke="#262626" stroke-width="2.00" stroke-linecap="butt"/>
<line x1="827.20" y1="720.00" x2="943.40" y2="720.00" stroke="#262626" stroke-width="2.00" stroke-linecap="butt"/>
<line x1="663.80" y1="720.00" x2="663.80" y2="726.50" stroke="#262626" stroke-width="2.00" stroke-linecap="butt"/>
<line x1="712.90" y1="720.00" x2="712.90" y2="726.50" stroke="#262626" stroke-width="2.00" stroke-linecap="butt"/>
<line x1="761.70" y1="720.00" x2="761.70" y2="726.50" stroke="#262626" stroke-width="2.00" stroke-linecap="butt"/>
<line x1="859.20" y1="720.00" x2="859.20" y2="726.50" stroke="#262626" stroke-width="2.00" stroke-linecap="butt"/>
<line x1="901.00" y1="720.00" x2="901.00" y2="726.50" stroke="#262626" stroke-width="2.00" stroke-linecap="butt"/>
<line x1="942.40" y1="720.00" x2="942.40" y2="726.50" stroke="#262626" stroke-width="2.00" stroke-linecap="butt"/>
<line x1="810.20" y1="713.50" x2="810.20" y2="726.50" stroke="#262626" stroke-width="2.50" stroke-linecap="butt"/>
<line x1="828.20" y1="713.50" x2="828.20" y2="726.50" stroke="#262626" stroke-width="2.50" stroke-linecap="butt"/>
<polyline points="663.50,668.00 676.70,571.70 718.60,553.90 811.20,575.56" fill="none" stroke="#4251a0" stroke-width="3.90" stroke-linejoin="round" stroke-linecap="butt"/>
<polyline points="827.40,579.35 858.80,586.70 942.60,600.60" fill="none" stroke="#4251a0" stroke-width="3.90" stroke-linejoin="round" stroke-linecap="butt"/>
<line x1="676.70" y1="565.00" x2="676.70" y2="578.80" stroke="#4251a0" stroke-width="2.00" stroke-linecap="butt"/>
<line x1="672.10" y1="565.00" x2="681.30" y2="565.00" stroke="#4251a0" stroke-width="2.30" stroke-linecap="butt"/>
<line x1="672.10" y1="578.80" x2="681.30" y2="578.80" stroke="#4251a0" stroke-width="2.30" stroke-linecap="butt"/>
<line x1="858.80" y1="580.10" x2="858.80" y2="594.40" stroke="#4251a0" stroke-width="2.00" stroke-linecap="butt"/>
<line x1="854.20" y1="580.10" x2="863.40" y2="580.10" stroke="#4251a0" stroke-width="2.30" stroke-linecap="butt"/>
<line x1="854.20" y1="594.40" x2="863.40" y2="594.40" stroke="#4251a0" stroke-width="2.30" stroke-linecap="butt"/>
<line x1="942.60" y1="593.50" x2="942.60" y2="606.80" stroke="#4251a0" stroke-width="2.00" stroke-linecap="butt"/>
<line x1="938.00" y1="593.50" x2="947.20" y2="593.50" stroke="#4251a0" stroke-width="2.30" stroke-linecap="butt"/>
<line x1="938.00" y1="606.80" x2="947.20" y2="606.80" stroke="#4251a0" stroke-width="2.30" stroke-linecap="butt"/>
<rect x="659.25" y="663.75" width="8.5" height="8.5" fill="#4251a0"/>
<rect x="672.45" y="567.45" width="8.5" height="8.5" fill="#4251a0"/>
<rect x="714.35" y="549.65" width="8.5" height="8.5" fill="#4251a0"/>
<rect x="854.55" y="582.45" width="8.5" height="8.5" fill="#4251a0"/>
<rect x="938.35" y="596.35" width="8.5" height="8.5" fill="#4251a0"/>
<polyline points="663.50,668.00 675.30,562.50 718.60,553.00 811.20,566.21" fill="none" stroke="#de2c35" stroke-width="4.40" stroke-linejoin="round" stroke-linecap="butt"/>
<polyline points="827.40,568.52 858.80,573.00 942.60,581.40" fill="none" stroke="#de2c35" stroke-width="4.40" stroke-linejoin="round" stroke-linecap="butt"/>
<line x1="663.50" y1="644.40" x2="663.50" y2="691.60" stroke="#de2c35" stroke-width="2.00" stroke-linecap="butt"/>
<line x1="658.90" y1="644.40" x2="668.10" y2="644.40" stroke="#de2c35" stroke-width="2.30" stroke-linecap="butt"/>
<line x1="658.90" y1="691.60" x2="668.10" y2="691.60" stroke="#de2c35" stroke-width="2.30" stroke-linecap="butt"/>
<line x1="675.30" y1="558.00" x2="675.30" y2="567.00" stroke="#de2c35" stroke-width="2.00" stroke-linecap="butt"/>
<line x1="670.70" y1="558.00" x2="679.90" y2="558.00" stroke="#de2c35" stroke-width="2.30" stroke-linecap="butt"/>
<line x1="670.70" y1="567.00" x2="679.90" y2="567.00" stroke="#de2c35" stroke-width="2.30" stroke-linecap="butt"/>
<line x1="858.80" y1="566.70" x2="858.80" y2="579.20" stroke="#de2c35" stroke-width="2.00" stroke-linecap="butt"/>
<line x1="854.20" y1="566.70" x2="863.40" y2="566.70" stroke="#de2c35" stroke-width="2.30" stroke-linecap="butt"/>
<line x1="854.20" y1="579.20" x2="863.40" y2="579.20" stroke="#de2c35" stroke-width="2.30" stroke-linecap="butt"/>
<line x1="942.60" y1="569.40" x2="942.60" y2="593.50" stroke="#de2c35" stroke-width="2.00" stroke-linecap="butt"/>
<line x1="938.00" y1="569.40" x2="947.20" y2="569.40" stroke="#de2c35" stroke-width="2.30" stroke-linecap="butt"/>
<line x1="938.00" y1="593.50" x2="947.20" y2="593.50" stroke="#de2c35" stroke-width="2.30" stroke-linecap="butt"/>
<rect x="659.25" y="663.75" width="8.5" height="8.5" fill="#de2c35"/>
<circle cx="675.30" cy="562.50" r="4.3" fill="#de2c35"/>
<circle cx="718.60" cy="553.00" r="4.3" fill="#de2c35"/>
<circle cx="858.80" cy="573.00" r="4.3" fill="#de2c35"/>
<circle cx="942.60" cy="581.40" r="4.3" fill="#de2c35"/>
<text transform="translate(591.31,525.50) scale(1.0200,1)" font-size="25.50" fill="#1a1a1a">110</text>
<text transform="translate(590.42,559.10) scale(1.0200,1)" font-size="25.50" fill="#1a1a1a">100</text>
<text transform="translate(597.94,592.70) scale(1.0200,1)" font-size="25.50" fill="#1a1a1a">90</text>
<text transform="translate(598.07,626.30) scale(1.0200,1)" font-size="25.50" fill="#1a1a1a">80</text>
<text transform="translate(597.94,659.90) scale(1.0200,1)" font-size="25.50" fill="#1a1a1a">70</text>
<text transform="translate(597.94,693.90) scale(1.0200,1)" font-size="25.50" fill="#1a1a1a">60</text>
<text transform="translate(598.07,727.70) scale(1.0200,1)" font-size="25.50" fill="#1a1a1a">50</text>
<text transform="translate(653.74,749.60) scale(1.0588,1)" font-size="26.81" fill="#1a1a1a"><tspan font-family="Liberation Sans">0</tspan></text>
<text transform="translate(702.30,749.60) scale(1.0036,1)" font-size="27.20" fill="#1a1a1a"><tspan font-family="Liberation Sans">4</tspan></text>
<text transform="translate(750.51,749.60) scale(1.1120,1)" font-size="26.81" fill="#1a1a1a"><tspan font-family="Liberation Sans">8</tspan></text>
<text transform="translate(798.61,749.60) scale(0.9434,1)" font-size="26.81" fill="#1a1a1a"><tspan font-family="Liberation Sans">12</tspan></text>
<text transform="translate(845.19,749.60) scale(1.0195,1)" font-size="26.81" fill="#1a1a1a"><tspan font-family="Liberation Sans">48</tspan></text>
<text transform="translate(885.84,749.60) scale(1.0109,1)" font-size="26.81" fill="#1a1a1a"><tspan font-family="Liberation Sans">96</tspan></text>
<text transform="translate(925.61,749.60) scale(0.9435,1)" font-size="27.20" fill="#1a1a1a"><tspan font-family="Liberation Sans">144</tspan></text>
<text transform="translate(767.70,779.50) scale(0.9945,1)" font-size="27.49" fill="#1a1a1a"><tspan font-family="Liberation Sans">Time (h)</tspan></text>
<text transform="translate(575.20,697.57) rotate(-90) scale(1.0267,1)" font-size="33.38" fill="#1a1a1a"><tspan font-family="Liberation Sans">TREM1+ %</tspan></text>
<circle cx="132.9" cy="876.3" r="6.9" fill="none" stroke="#a33a4a" stroke-width="2.4"/>
<circle cx="132.1" cy="922.2" r="6.9" fill="none" stroke="#2465a8" stroke-width="2.4"/>
<circle cx="588.1" cy="876.1" r="7.0" fill="#a81e28"/>
<circle cx="588.1" cy="922.7" r="7.0" fill="#1c5fa8"/>
<text transform="translate(173.88,885.60) scale(0.9286,1)" font-size="31.13" fill="#1a1a1a"><tspan font-family="Liberation Sans">MCAo blood</tspan></text>
<text transform="translate(341.52,885.90) scale(0.9750,1)" font-size="32.58" fill="#1a1a1a"><tspan font-family="Liberation Sans">Mo/M</tspan></text>
<text transform="translate(420.11,886.30) scale(0.9907,1)" font-size="32.06" fill="#1a1a1a" style="stroke-width:0.9px"><tspan font-family="Liberation Serif">Φ</tspan></text>
<text transform="translate(167.44,932.40) scale(0.9726,1)" font-size="29.68" fill="#1a1a1a"><tspan font-family="Liberation Sans">Sham blood</tspan></text>
<text transform="translate(330.12,932.40) scale(0.9925,1)" font-size="31.56" fill="#1a1a1a"><tspan font-family="Liberation Sans">Mo/M</tspan></text>
<text transform="translate(408.21,933.20) scale(0.9907,1)" font-size="32.06" fill="#1a1a1a" style="stroke-width:0.9px"><tspan font-family="Liberation Serif">Φ</tspan></text>
<text transform="translate(625.41,885.70) scale(0.9570,1)" font-size="30.55" fill="#1a1a1a"><tspan font-family="Liberation Sans">MCAo IL hemisphere</tspan></text>
<text transform="translate(906.82,885.70) scale(0.9741,1)" font-size="32.15" fill="#1a1a1a"><tspan font-family="Liberation Sans">Mo/M</tspan></text>
<text transform="translate(986.02,885.70) scale(0.9788,1)" font-size="31.76" fill="#1a1a1a" style="stroke-width:0.9px"><tspan font-family="Liberation Serif">Φ</tspan></text>
<text transform="translate(625.74,932.00) scale(0.9734,1)" font-size="30.11" fill="#1a1a1a"><tspan font-family="Liberation Sans">Sham IL hemisphere</tspan></text>
<text transform="translate(901.33,932.00) scale(0.9701,1)" font-size="32.29" fill="#1a1a1a"><tspan font-family="Liberation Sans">Mo/M</tspan></text>
<text transform="translate(980.23,932.40) scale(0.9721,1)" font-size="32.37" fill="#1a1a1a" style="stroke-width:0.9px"><tspan font-family="Liberation Serif">Φ</tspan></text>
<line x1="190.80" y1="1029.50" x2="190.80" y2="1301.70" stroke="#262626" stroke-width="2.20" stroke-linecap="butt"/>
<line x1="183.00" y1="1030.10" x2="190.80" y2="1030.10" stroke="#262626" stroke-width="2.20" stroke-linecap="butt"/>
<line x1="183.00" y1="1084.20" x2="190.80" y2="1084.20" stroke="#262626" stroke-width="2.20" stroke-linecap="butt"/>
<line x1="183.00" y1="1138.30" x2="190.80" y2="1138.30" stroke="#262626" stroke-width="2.20" stroke-linecap="butt"/>
<line x1="183.00" y1="1192.40" x2="190.80" y2="1192.40" stroke="#262626" stroke-width="2.20" stroke-linecap="butt"/>
<line x1="183.00" y1="1246.40" x2="190.80" y2="1246.40" stroke="#262626" stroke-width="2.20" stroke-linecap="butt"/>
<line x1="183.00" y1="1300.50" x2="190.80" y2="1300.50" stroke="#262626" stroke-width="2.20" stroke-linecap="butt"/>
<line x1="183.00" y1="1300.50" x2="460.50" y2="1300.50" stroke="#262626" stroke-width="2.80" stroke-linecap="butt"/>
<line x1="224.50" y1="1300.50" x2="224.50" y2="1308.00" stroke="#262626" stroke-width="2.20" stroke-linecap="butt"/>
<line x1="275.00" y1="1300.50" x2="275.00" y2="1308.00" stroke="#262626" stroke-width="2.20" stroke-linecap="butt"/>
<line x1="376.10" y1="1300.50" x2="376.10" y2="1308.00" stroke="#262626" stroke-width="2.20" stroke-linecap="butt"/>
<line x1="426.60" y1="1300.50" x2="426.60" y2="1308.00" stroke="#262626" stroke-width="2.20" stroke-linecap="butt"/>
<text transform="translate(110.44,1042.70) scale(1.0100,1)" font-size="30.00" fill="#1a1a1a">5000</text>
<text transform="translate(110.44,1096.80) scale(1.0100,1)" font-size="30.00" fill="#1a1a1a">4000</text>
<text transform="translate(110.44,1150.90) scale(1.0100,1)" font-size="30.00" fill="#1a1a1a">3000</text>
<text transform="translate(110.44,1205.00) scale(1.0100,1)" font-size="30.00" fill="#1a1a1a">2000</text>
<text transform="translate(110.44,1259.00) scale(1.0100,1)" font-size="30.00" fill="#1a1a1a">1000</text>
<text transform="translate(160.94,1313.10) scale(1.0100,1)" font-size="30.00" fill="#1a1a1a">0</text>
<text transform="translate(245.95,1003.70) scale(1.0545,1)" font-size="32.69" fill="#1a1a1a"><tspan font-family="Liberation Sans">2 days</tspan></text>
<text transform="translate(97.90,1233.72) rotate(-90) scale(0.9624,1)" font-size="35.20" fill="#1a1a1a"><tspan font-family="Liberation Sans">TREM1 MFI</tspan></text>
<line x1="225.70" y1="1064.10" x2="384.30" y2="1064.10" stroke="#262626" stroke-width="3.00" stroke-linecap="butt"/>
<line x1="287.60" y1="1041.84" x2="287.60" y2="1052.76" stroke="#262626" stroke-width="1.30"/>
<ellipse cx="287.60" cy="1052.76" rx="2.34" ry="1.64" fill="#262626" transform="rotate(90.0 287.60 1052.76)"/>
<ellipse cx="287.60" cy="1041.84" rx="2.34" ry="1.64" fill="#262626" transform="rotate(90.0 287.60 1041.84)"/>
<line x1="282.87" y1="1044.57" x2="292.33" y2="1050.03" stroke="#262626" stroke-width="1.30"/>
<ellipse cx="292.33" cy="1050.03" rx="2.34" ry="1.64" fill="#262626" transform="rotate(30.0 292.33 1050.03)"/>
<ellipse cx="282.87" cy="1044.57" rx="2.34" ry="1.64" fill="#262626" transform="rotate(30.0 282.87 1044.57)"/>
<line x1="292.33" y1="1044.57" x2="282.87" y2="1050.03" stroke="#262626" stroke-width="1.30"/>
<ellipse cx="282.87" cy="1050.03" rx="2.34" ry="1.64" fill="#262626" transform="rotate(150.0 282.87 1050.03)"/>
<ellipse cx="292.33" cy="1044.57" rx="2.34" ry="1.64" fill="#262626" transform="rotate(150.0 292.33 1044.57)"/>
<line x1="305.60" y1="1041.84" x2="305.60" y2="1052.76" stroke="#262626" stroke-width="1.30"/>
<ellipse cx="305.60" cy="1052.76" rx="2.34" ry="1.64" fill="#262626" transform="rotate(90.0 305.60 1052.76)"/>
<ellipse cx="305.60" cy="1041.84" rx="2.34" ry="1.64" fill="#262626" transform="rotate(90.0 305.60 1041.84)"/>
<line x1="300.87" y1="1044.57" x2="310.33" y2="1050.03" stroke="#262626" stroke-width="1.30"/>
<ellipse cx="310.33" cy="1050.03" rx="2.34" ry="1.64" fill="#262626" transform="rotate(30.0 310.33 1050.03)"/>
<ellipse cx="300.87" cy="1044.57" rx="2.34" ry="1.64" fill="#262626" transform="rotate(30.0 300.87 1044.57)"/>
<line x1="310.33" y1="1044.57" x2="300.87" y2="1050.03" stroke="#262626" stroke-width="1.30"/>
<ellipse cx="300.87" cy="1050.03" rx="2.34" ry="1.64" fill="#262626" transform="rotate(150.0 300.87 1050.03)"/>
<ellipse cx="310.33" cy="1044.57" rx="2.34" ry="1.64" fill="#262626" transform="rotate(150.0 310.33 1044.57)"/>
<polyline points="207.60,1300.50 207.60,1280.30 241.30,1280.30 241.30,1300.50" fill="#fff" stroke="#b23340" stroke-width="2.00" stroke-linejoin="miter"/>
<line x1="224.50" y1="1276.00" x2="224.50" y2="1290.00" stroke="#b23340" stroke-width="2.00" stroke-linecap="butt"/>
<line x1="218.50" y1="1276.00" x2="230.50" y2="1276.00" stroke="#b23340" stroke-width="2.00" stroke-linecap="butt"/>
<line x1="218.50" y1="1290.00" x2="230.50" y2="1290.00" stroke="#b23340" stroke-width="2.00" stroke-linecap="butt"/>
<circle cx="207.70" cy="1268.40" r="5.30" fill="none" stroke="#a33a4a" stroke-width="2.00"/>
<circle cx="240.60" cy="1269.90" r="5.30" fill="none" stroke="#a33a4a" stroke-width="2.00"/>
<circle cx="214.40" cy="1283.30" r="5.30" fill="none" stroke="#a33a4a" stroke-width="2.00"/>
<circle cx="219.80" cy="1290.20" r="5.30" fill="none" stroke="#a33a4a" stroke-width="2.00"/>
<circle cx="229.70" cy="1289.70" r="5.30" fill="none" stroke="#a33a4a" stroke-width="2.00"/>
<circle cx="234.20" cy="1279.80" r="5.30" fill="none" stroke="#a33a4a" stroke-width="2.00"/>
<circle cx="220.80" cy="1279.80" r="5.30" fill="none" stroke="#a33a4a" stroke-width="2.00"/>
<circle cx="227.70" cy="1281.50" r="5.30" fill="none" stroke="#a33a4a" stroke-width="2.00"/>
<polyline points="258.00,1300.50 258.00,1289.20 291.90,1289.20 291.90,1300.50" fill="#fff" stroke="#2d6db0" stroke-width="2.00" stroke-linejoin="miter"/>
<circle cx="266.50" cy="1287.50" r="5.10" fill="none" stroke="#2465a8" stroke-width="2.60"/>
<circle cx="272.00" cy="1291.00" r="5.10" fill="none" stroke="#2465a8" stroke-width="2.60"/>
<circle cx="277.50" cy="1289.00" r="5.10" fill="none" stroke="#2465a8" stroke-width="2.60"/>
<circle cx="281.00" cy="1291.50" r="5.10" fill="none" stroke="#2465a8" stroke-width="2.60"/>
<circle cx="284.50" cy="1287.00" r="5.10" fill="none" stroke="#2465a8" stroke-width="2.60"/>
<circle cx="283.40" cy="1280.50" r="5.10" fill="none" stroke="#2465a8" stroke-width="2.60"/>
<circle cx="270.00" cy="1285.00" r="5.10" fill="none" stroke="#2465a8" stroke-width="2.60"/>
<circle cx="276.00" cy="1284.00" r="5.10" fill="none" stroke="#2465a8" stroke-width="2.60"/>
<polyline points="359.20,1300.50 359.20,1202.70 393.50,1202.70 393.50,1300.50" fill="#fff" stroke="#b23340" stroke-width="2.00" stroke-linejoin="miter"/>
<line x1="376.20" y1="1180.90" x2="376.20" y2="1224.10" stroke="#b23340" stroke-width="2.00" stroke-linecap="butt"/>
<line x1="367.70" y1="1180.90" x2="384.70" y2="1180.90" stroke="#b23340" stroke-width="2.00" stroke-linecap="butt"/>
<line x1="367.70" y1="1224.10" x2="384.70" y2="1224.10" stroke="#b23340" stroke-width="2.00" stroke-linecap="butt"/>
<circle cx="376.10" cy="1093.30" r="5.50" fill="#a81e28"/>
<circle cx="368.30" cy="1178.90" r="5.50" fill="#a81e28"/>
<circle cx="384.60" cy="1189.80" r="5.50" fill="#a81e28"/>
<circle cx="376.30" cy="1217.50" r="5.50" fill="#a81e28"/>
<circle cx="376.30" cy="1238.00" r="5.50" fill="#a81e28"/>
<circle cx="384.60" cy="1244.70" r="5.50" fill="#a81e28"/>
<circle cx="368.30" cy="1256.80" r="5.50" fill="#a81e28"/>
<polyline points="409.80,1300.50 409.80,1285.00 444.00,1285.00 444.00,1300.50" fill="#fff" stroke="#2d6db0" stroke-width="2.00" stroke-linejoin="miter"/>
<line x1="426.80" y1="1279.60" x2="426.80" y2="1293.00" stroke="#2d6db0" stroke-width="2.00" stroke-linecap="butt"/>
<line x1="420.30" y1="1279.60" x2="433.30" y2="1279.60" stroke="#2d6db0" stroke-width="2.00" stroke-linecap="butt"/>
<line x1="420.30" y1="1293.00" x2="433.30" y2="1293.00" stroke="#2d6db0" stroke-width="2.00" stroke-linecap="butt"/>
<circle cx="418.90" cy="1269.70" r="5.50" fill="#1c5fa8"/>
<circle cx="435.10" cy="1275.00" r="5.50" fill="#1c5fa8"/>
<circle cx="418.30" cy="1289.90" r="5.50" fill="#1c5fa8"/>
<circle cx="427.20" cy="1293.80" r="5.50" fill="#1c5fa8"/>
<circle cx="435.10" cy="1292.90" r="5.50" fill="#1c5fa8"/>
<line x1="617.60" y1="1030.20" x2="617.60" y2="1302.00" stroke="#262626" stroke-width="2.20" stroke-linecap="butt"/>
<line x1="610.20" y1="1030.80" x2="617.60" y2="1030.80" stroke="#262626" stroke-width="2.20" stroke-linecap="butt"/>
<line x1="610.20" y1="1120.70" x2="617.60" y2="1120.70" stroke="#262626" stroke-width="2.20" stroke-linecap="butt"/>
<line x1="610.20" y1="1210.70" x2="617.60" y2="1210.70" stroke="#262626" stroke-width="2.20" stroke-linecap="butt"/>
<line x1="610.20" y1="1300.80" x2="617.60" y2="1300.80" stroke="#262626" stroke-width="2.20" stroke-linecap="butt"/>
<line x1="610.20" y1="1300.80" x2="887.60" y2="1300.80" stroke="#262626" stroke-width="2.80" stroke-linecap="butt"/>
<line x1="653.10" y1="1300.80" x2="653.10" y2="1308.30" stroke="#262626" stroke-width="2.20" stroke-linecap="butt"/>
<line x1="701.90" y1="1300.80" x2="701.90" y2="1308.30" stroke="#262626" stroke-width="2.20" stroke-linecap="butt"/>
<line x1="803.30" y1="1300.80" x2="803.30" y2="1308.30" stroke="#262626" stroke-width="2.20" stroke-linecap="butt"/>
<line x1="853.70" y1="1300.80" x2="853.70" y2="1308.30" stroke="#262626" stroke-width="2.20" stroke-linecap="butt"/>
<text transform="translate(537.85,1041.10) scale(1.0100,1)" font-size="30.00" fill="#1a1a1a">1500</text>
<text transform="translate(537.85,1131.00) scale(1.0100,1)" font-size="30.00" fill="#1a1a1a">1000</text>
<text transform="translate(554.76,1221.00) scale(1.0100,1)" font-size="30.00" fill="#1a1a1a">500</text>
<text transform="translate(588.35,1311.10) scale(1.0100,1)" font-size="30.00" fill="#1a1a1a">0</text>
<text transform="translate(699.84,1003.50) scale(1.1065,1)" font-size="30.90" fill="#1a1a1a"><tspan font-family="Liberation Sans">6 days</tspan></text>
<text transform="translate(523.90,1229.74) rotate(-90) scale(0.9852,1)" font-size="34.04" fill="#1a1a1a"><tspan font-family="Liberation Sans">TREM1 MFI</tspan></text>
<line x1="648.80" y1="1084.00" x2="807.20" y2="1084.00" stroke="#262626" stroke-width="3.00" stroke-linecap="butt"/>
<text transform="translate(695.10,1074.10) scale(1.0042,1)" font-size="21.22" fill="#1a1a1a"><tspan font-family="Liberation Sans" font-style="italic">p= 0.053</tspan></text>
<polyline points="635.80,1300.80 635.80,1252.80 670.70,1252.80 670.70,1300.80" fill="#fff" stroke="#b23340" stroke-width="2.00" stroke-linejoin="miter"/>
<line x1="653.20" y1="1237.70" x2="653.20" y2="1267.80" stroke="#b23340" stroke-width="2.00" stroke-linecap="butt"/>
<line x1="644.90" y1="1237.70" x2="661.50" y2="1237.70" stroke="#b23340" stroke-width="2.00" stroke-linecap="butt"/>
<line x1="644.90" y1="1267.80" x2="661.50" y2="1267.80" stroke="#b23340" stroke-width="2.00" stroke-linecap="butt"/>
<circle cx="644.40" cy="1210.30" r="5.30" fill="none" stroke="#a33a4a" stroke-width="2.00"/>
<circle cx="660.90" cy="1221.20" r="5.30" fill="none" stroke="#a33a4a" stroke-width="2.00"/>
<circle cx="643.60" cy="1277.10" r="5.30" fill="none" stroke="#a33a4a" stroke-width="2.00"/>
<circle cx="653.10" cy="1278.40" r="5.30" fill="none" stroke="#a33a4a" stroke-width="2.00"/>
<circle cx="662.10" cy="1277.10" r="5.30" fill="none" stroke="#a33a4a" stroke-width="2.00"/>
<polyline points="685.00,1300.80 685.00,1264.60 719.00,1264.60 719.00,1300.80" fill="#fff" stroke="#2d6db0" stroke-width="2.00" stroke-linejoin="miter"/>
<circle cx="693.80" cy="1261.60" r="4.80" fill="none" stroke="#2465a8" stroke-width="2.20"/>
<circle cx="709.60" cy="1261.10" r="4.80" fill="none" stroke="#2465a8" stroke-width="2.20"/>
<circle cx="697.70" cy="1267.00" r="4.80" fill="none" stroke="#2465a8" stroke-width="2.20"/>
<circle cx="705.60" cy="1266.50" r="4.80" fill="none" stroke="#2465a8" stroke-width="2.20"/>
<polyline points="786.00,1300.80 786.00,1182.60 820.10,1182.60 820.10,1300.80" fill="#fff" stroke="#b23340" stroke-width="2.00" stroke-linejoin="miter"/>
<line x1="803.20" y1="1158.40" x2="803.20" y2="1206.60" stroke="#b23340" stroke-width="2.00" stroke-linecap="butt"/>
<line x1="794.40" y1="1158.40" x2="812.00" y2="1158.40" stroke="#b23340" stroke-width="2.00" stroke-linecap="butt"/>
<line x1="794.40" y1="1206.60" x2="812.00" y2="1206.60" stroke="#b23340" stroke-width="2.00" stroke-linecap="butt"/>
<circle cx="794.10" cy="1117.60" r="5.00" fill="#a81e28"/>
<circle cx="802.80" cy="1126.90" r="5.00" fill="#a81e28"/>
<circle cx="812.40" cy="1126.50" r="5.00" fill="#a81e28"/>
<circle cx="803.30" cy="1157.10" r="5.00" fill="#a81e28"/>
<circle cx="794.10" cy="1244.40" r="5.00" fill="#a81e28"/>
<circle cx="812.40" cy="1245.70" r="5.00" fill="#a81e28"/>
<circle cx="803.30" cy="1257.80" r="5.00" fill="#a81e28"/>
<polyline points="837.20,1300.80 837.20,1278.30 871.10,1278.30 871.10,1300.80" fill="#fff" stroke="#2d6db0" stroke-width="2.00" stroke-linejoin="miter"/>
<line x1="854.00" y1="1267.90" x2="854.00" y2="1290.00" stroke="#2d6db0" stroke-width="2.00" stroke-linecap="butt"/>
<line x1="845.60" y1="1267.90" x2="862.40" y2="1267.90" stroke="#2d6db0" stroke-width="2.00" stroke-linecap="butt"/>
<line x1="845.60" y1="1290.00" x2="862.40" y2="1290.00" stroke="#2d6db0" stroke-width="2.00" stroke-linecap="butt"/>
<circle cx="854.00" cy="1244.00" r="5.00" fill="#1c5fa8"/>
<circle cx="853.70" cy="1269.90" r="5.00" fill="#1c5fa8"/>
<circle cx="844.80" cy="1283.80" r="5.00" fill="#1c5fa8"/>
<circle cx="862.40" cy="1292.20" r="5.00" fill="#1c5fa8"/>
<circle cx="854.00" cy="1297.20" r="5.00" fill="#1c5fa8"/>
</svg></body></html>
